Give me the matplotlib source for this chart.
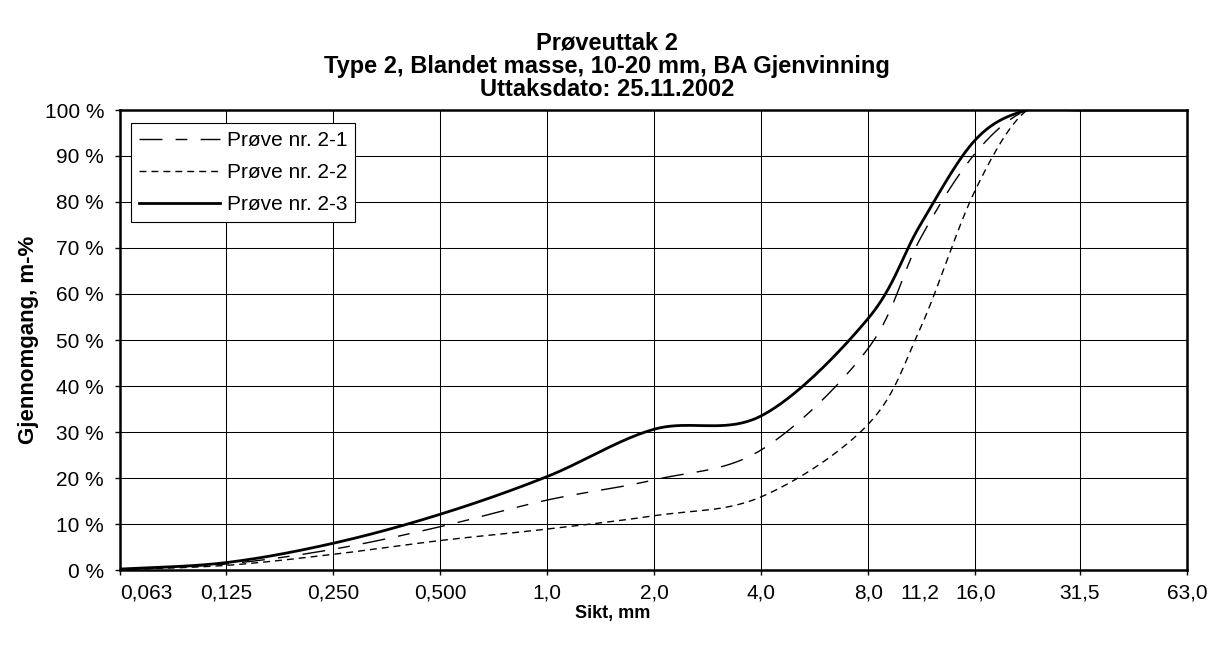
import matplotlib
matplotlib.use("Agg")
import matplotlib.pyplot as plt
from matplotlib.ticker import FixedLocator, NullLocator
import numpy as np

plt.rcParams['font.family'] = ['Liberation Sans', 'DejaVu Sans']

# sieve sizes (mm) and passing (%)
sikt = [0.063, 0.125, 0.25, 0.5, 1.0, 2.0, 4.0, 8.0, 11.2, 16.0, 22.4, 31.5, 63.0]
prove_2_1 = [0.2, 1.3, 4.5, 9.4, 15.2, 19.6, 26.1, 48.2, 72.0, 90.6, 100, 100, 100]
prove_2_2 = [0.1, 1.0, 3.4, 6.4, 8.9, 11.8, 15.9, 31.7, 52.5, 82.6, 100, 100, 100]
prove_2_3 = [0.2, 1.6, 5.8, 12.1, 20.3, 30.6, 33.5, 54.7, 75.0, 93.5, 100, 100, 100]

tick_values = [0.063, 0.125, 0.25, 0.5, 1.0, 2.0, 4.0, 8.0, 16.0, 31.5, 63.0]
tick_labels = ["0,063", "0,125", "0,250", "0,500", "1,0", "2,0", "4,0", "8,0",
               "16,0", "31,5", "63,0"]


def smooth(x, y, n=40):
    # bezier smoothing like a spreadsheet "smoothed line", done in log2 space
    pts = np.column_stack([np.log2(x), y])
    last = len(pts) - 1
    segs = []
    for i in range(last):
        p0 = pts[max(i - 1, 0)]
        p1 = pts[i]
        p2 = pts[i + 1]
        p3 = pts[min(i + 2, last)]
        c1 = p1 + (p2 - p0) / 6
        c2 = p2 - (p3 - p1) / 6
        t = np.linspace(0, 1, n)[:, None]
        seg = (1 - t)**3 * p1 + 3 * (1 - t)**2 * t * c1 + 3 * (1 - t) * t**2 * c2 + t**3 * p2
        segs.append(seg if i == 0 else seg[1:])
    s = np.vstack(segs)
    return 2 ** s[:, 0], s[:, 1]


fig = plt.figure(figsize=(12.15, 6.5), dpi=100)
ax = fig.add_axes([120 / 1215, 80 / 650, 1067 / 1215, 460 / 650])

x, y = smooth(sikt, prove_2_1)
ax.plot(x, y, color='black', lw=1.0, dashes=(16.5, 9.5, 8.5, 9.5), label='Prøve nr. 2-1')
x, y = smooth(sikt, prove_2_2)
ax.plot(x, y, color='black', lw=1.0, dashes=(5, 3.6), label='Prøve nr. 2-2')
x, y = smooth(sikt, prove_2_3)
ax.plot(x, y, color='black', lw=2.0, label='Prøve nr. 2-3')

ax.set_xscale('log', base=2)
ax.set_xlim(0.063, 63.0)
ax.set_ylim(0, 100)

ax.xaxis.set_major_locator(FixedLocator(tick_values))
ax.set_xticklabels(tick_labels)
ax.xaxis.set_minor_locator(FixedLocator([11.2]))
ax.xaxis.set_minor_formatter(plt.FixedFormatter(["11,2"]))
ax.tick_params(axis='x', which='minor', length=0, pad=9.5, labelsize=15)
ax.tick_params(axis='x', which='major', direction='out', length=3.5, width=1, pad=6.5, labelsize=15)
ax.get_xticklabels()[0].set_horizontalalignment('left')

ax.set_yticks(range(0, 101, 10))
ax.set_yticklabels([f"{v} %" for v in range(0, 101, 10)])
ax.yaxis.set_minor_locator(NullLocator())
ax.tick_params(axis='y', direction='out', length=3.5, width=1, pad=8, labelsize=15)

ax.grid(True, which='major', color='black', lw=0.75)
ax.set_axisbelow(True)
for sp in ax.spines.values():
    sp.set_linewidth(1.8)

ax.set_ylabel("Gjennomgang, m-%", fontsize=16, fontweight='bold')
ax.yaxis.set_label_coords(-0.0755, 0.5)
ax.set_xlabel("Sikt, mm", fontsize=13, fontweight='bold')
ax.xaxis.set_label_coords(0.462, -0.094)
ax.xaxis.label.set_verticalalignment('center')

leg = ax.legend(loc='upper left', bbox_to_anchor=(0.010, 0.972), borderaxespad=0,
                fontsize=15, handlelength=3.9, handletextpad=0.3, labelspacing=0.62,
                fancybox=False, framealpha=1, edgecolor='black', borderpad=0.4)
leg.get_frame().set_linewidth(0.8)

titles = ["Prøveuttak 2", "Type 2, Blandet masse, 10-20 mm, BA Gjenvinning",
          "Uttaksdato: 25.11.2002"]
for i, t in enumerate(titles):
    fig.text(607 / 1215, 1 - (49.5 + 23.5 * i) / 650, t, ha='center', va='baseline',
             fontsize=17, fontweight='bold')

fig.savefig("out.png", dpi=100)
